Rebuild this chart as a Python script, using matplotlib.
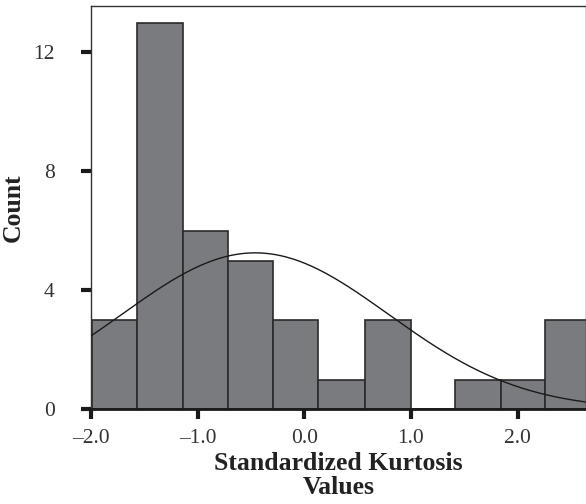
import numpy as np
import matplotlib.pyplot as plt

# --------------------------------------------------------------
# Data
bin_edges = [-1.985, -1.563, -1.139, -0.712, -0.291, 0.129, 0.570, 0.998, 1.415, 1.839, 2.259, 2.70]
counts = [3, 13, 6, 5, 3, 1, 3, 0, 1, 1, 3]

# normal curve parameters (fitted over the histogram)
curve_mean = -0.46
curve_sd = 1.25
curve_peak = 5.26

xticks = [-2.0, -1.0, 0.0, 1.0, 2.0]
xticklabels = ['\u20132.0', '\u20131.0', '0.0', '1.0', '2.0']
yticks = [0, 4, 8, 12]

# --------------------------------------------------------------
plt.rcParams['font.family'] = ['Liberation Serif', 'DejaVu Serif']

fig = plt.figure(figsize=(5.86, 5.04), dpi=100)
ax = fig.add_axes([0.155, 0.188, 0.845, 0.800])

edges = np.array(bin_edges)
ax.bar(edges[:-1], counts, width=np.diff(edges), align='edge',
       color='#7a7b7f', edgecolor='#2a2a2a', linewidth=1.2, zorder=2)

xs = np.linspace(-2.0, 2.7, 300)
ys = curve_peak * np.exp(-0.5 * ((xs - curve_mean) / curve_sd) ** 2)
ax.plot(xs, ys, color='#1a1a1a', linewidth=1.0, zorder=3)

ax.set_xlim(-2.0, 2.64)
ax.set_ylim(0, 13.56)
ax.set_xticks(xticks)
ax.set_xticklabels(xticklabels)
ax.set_yticks(yticks)

ax.tick_params(axis='both', direction='out', length=7, width=3, color='#1a1a1a',
               labelsize=15.5, labelcolor='#333333')
ax.tick_params(axis='x', pad=7)
ax.tick_params(axis='y', pad=19)

for s in ax.spines.values():
    s.set_color('#333333')
    s.set_linewidth(1.0)
ax.spines['bottom'].set_linewidth(2.0)
ax.spines['bottom'].set_color('#1a1a1a')

ax.set_xlabel('Standardized Kurtosis\nValues', fontsize=18.5, fontweight='bold',
              color='#222222', linespacing=1.05, labelpad=3)
ax.set_ylabel('Count', fontsize=18.5, fontweight='bold', color='#222222', labelpad=6)

fig.savefig('out.png', dpi=100)
